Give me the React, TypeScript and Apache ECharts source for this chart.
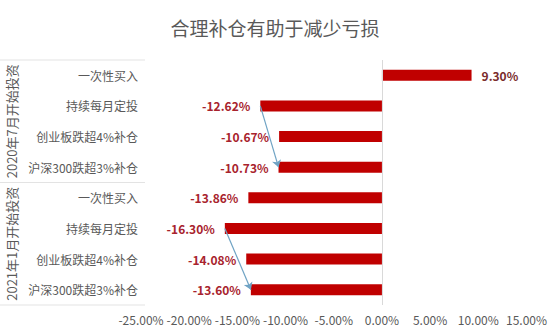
import React, { useEffect, useRef } from "react";
import * as echarts from "echarts";

const title = "合理补仓有助于减少亏损";
const categories = [
  "一次性买入",
  "持续每月定投",
  "创业板跌超4%补仓",
  "沪深300跌超3%补仓",
  "一次性买入",
  "持续每月定投",
  "创业板跌超4%补仓",
  "沪深300跌超3%补仓",
];
const values = [9.3, -12.62, -10.67, -10.73, -13.86, -16.3, -14.08, -13.6];
const groups = ["2020年7月开始投资", "2021年1月开始投资"];
const arrows: [number, number][] = [
  [1, 3],
  [5, 7],
];

export default function App() {
  const ref = useRef<HTMLDivElement>(null);
  useEffect(() => {
    if (!ref.current) return;
    const chart = echarts.init(ref.current, undefined, { renderer: "svg" });
    const font = "'Microsoft YaHei', 'Noto Sans CJK SC', sans-serif";
    const gridTop = 60;
    const gridBottom = 25;
    const H = 330;
    const plotH = H - gridTop - gridBottom;
    const groupH = plotH / groups.length;
    const graphics: any[] = [];
    for (let i = 0; i <= groups.length; i++) {
      const y = gridTop + i * groupH;
      graphics.push({
        type: "line",
        shape: { x1: 0, y1: y, x2: 145, y2: y },
        style: { stroke: "#e3e3e3", lineWidth: 1 },
      });
    }
    groups.forEach((g, i) => {
      graphics.push({
        type: "text",
        x: 11,
        y: gridTop + (i + 0.5) * groupH,
        rotation: Math.PI / 2,
        style: {
          text: g,
          fill: "#595959",
          font: `13px ${font}`,
          align: "center",
          verticalAlign: "middle",
        },
      });
    });
    chart.setOption({
      animation: false,
      backgroundColor: "#ffffff",
      title: {
        text: title,
        left: "center",
        top: 13,
        textStyle: { color: "#595959", fontSize: 19, fontWeight: "normal", fontFamily: font },
      },
      grid: { left: 141, right: 22, top: gridTop, bottom: gridBottom, containLabel: false },
      xAxis: {
        type: "value",
        min: -25,
        max: 15,
        interval: 5,
        axisLine: { show: false },
        axisTick: { show: false },
        splitLine: { show: false },
        axisLabel: {
          color: "#595959",
          fontSize: 12,
          fontFamily: font,
          margin: 8,
          formatter: (v: number) => v.toFixed(2) + "%",
        },
      },
      yAxis: {
        type: "category",
        data: categories,
        inverse: true,
        axisLine: { show: false },
        axisTick: { show: false },
        axisLabel: { color: "#595959", fontSize: 12, fontFamily: font, margin: 3 },
      },
      series: [
        {
          type: "bar",
          data: values.map((v) => ({
            value: v,
            label: {
              show: true,
              position: v >= 0 ? "right" : "left",
              distance: 10,
              color: v >= 0 ? "#7a2b2b" : "#a8232d",
              fontWeight: "bold",
              fontSize: 12,
              fontFamily: font,
              formatter: (p: any) => Number(p.value).toFixed(2) + "%",
            },
          })),
          barWidth: 11,
          itemStyle: { color: "#c00000" },
          z: 3,
        },
        {
          type: "line",
          data: [],
          markLine: {
            silent: true,
            animation: false,
            symbol: ["none", "none"],
            label: { show: false },
            lineStyle: { color: "#d9d9d9", width: 1, type: "solid" },
            data: [{ xAxis: 0 }],
          },
        },
        {
          type: "line",
          data: [],
          z: 5,
          markLine: {
            silent: true,
            animation: false,
            symbol: ["none", "arrow"],
            symbolSize: 7,
            label: { show: false },
            lineStyle: { color: "#6fa3c4", width: 1.2, type: "solid" },
            data: arrows.map(([a, b]) => [
              { coord: [values[a], a] },
              { coord: [values[b], b] },
            ]),
          },
        },
      ],
      graphic: graphics,
    });
    return () => chart.dispose();
  }, []);
  return <div ref={ref} style={{ width: 550, height: 330, position: "absolute", left: 0, top: 0 }} />;
}
